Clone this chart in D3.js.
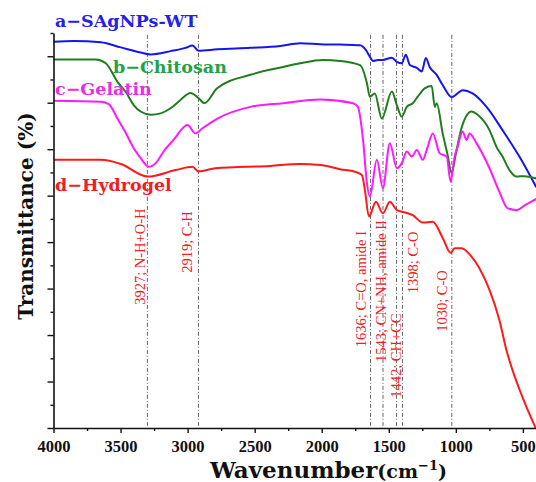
<!DOCTYPE html>
<html>
<head>
<meta charset="utf-8">
<script src="https://cdn.jsdelivr.net/npm/d3@7"></script>
<style>
  body { margin: 0; background: #fff; }
  svg { display: block; }
</style>
</head>
<body>
<div id="chart"></div>
<script>
// FTIR spectra, [wavenumber (cm-1), transmittance]
const seriesA = [[4000,83.1],[3850,83.3],[3647,83.0],[3498,81.9],[3350,80.8],[3275,80.4],[3127,81.1],[3015,81.8],[2963,82.3],[2919,81.2],[2778,81.5],[2532,81.8],[2309,82.2],[2161,82.8],[2012,82.6],[1863,82.5],[1714,82.35],[1670,81.3],[1641,79.9],[1618,79.0],[1581,79.2],[1544,79.2],[1477,79.7],[1440,78.8],[1403,78.5],[1373,80.3],[1343,78.1],[1291,77.5],[1254,76.7],[1224,79.6],[1195,77.7],[1143,76.0],[1098,73.8],[1031,71.2],[987,72.0],[950,72.7],[875,72.0],[771,69.1],[652,64.1],[526,58.4],[400,51.8]];
const seriesB = [[4000,79.3],[3684,79.3],[3610,78.5],[3523,74.5],[3461,72.3],[3402,69.5],[3350,68.1],[3275,67.4],[3201,67.7],[3127,68.8],[3053,70.6],[2978,72.1],[2919,71.0],[2874,69.9],[2780,73.1],[2532,76.0],[2287,77.7],[2161,78.5],[1990,79.2],[1863,79.0],[1714,78.1],[1663,74.2],[1641,71.3],[1604,72.0],[1552,66.6],[1477,72.4],[1440,69.5],[1403,67.0],[1366,69.1],[1321,69.9],[1284,71.3],[1232,73.1],[1180,73.6],[1157,69.1],[1143,69.9],[1098,63.4],[1061,58.7],[1031,54.8],[1002,58.7],[957,64.6],[883,68.1],[838,67.4],[749,64.1],[697,60.5],[652,58.4],[600,55.5],[548,54.1],[489,54.2],[400,53.7]];
const seriesC = [[4000,70.4],[3647,70.2],[3588,69.7],[3523,66.6],[3461,63.5],[3402,60.2],[3350,58.1],[3290,56.2],[3238,57.0],[3179,59.5],[3105,62.0],[3001,65.2],[2941,63.4],[2889,64.5],[2778,66.6],[2532,69.1],[2287,69.9],[2012,70.7],[1767,69.9],[1730,69.1],[1692,62.0],[1663,52.7],[1641,49.8],[1589,57.7],[1544,51.6],[1492,61.3],[1440,55.9],[1403,57.0],[1366,59.5],[1329,58.4],[1291,59.8],[1247,57.7],[1210,60.5],[1172,63.4],[1120,59.1],[1068,58.4],[1039,53.0],[1009,58.4],[987,60.5],[950,63.8],[920,62.0],[898,63.4],[846,61.3],[749,55.9],[675,50.8],[615,47.3],[548,46.9],[481,48.0],[400,49.3]];
const seriesD = [[4000,57.7],[3647,57.7],[3498,56.8],[3298,54.1],[3090,55.5],[2963,56.2],[2919,55.2],[2792,55.9],[2384,56.4],[2161,56.8],[2012,56.6],[1863,55.7],[1737,55.0],[1700,54.4],[1678,51.2],[1648,45.5],[1596,48.7],[1544,46.2],[1492,48.7],[1440,46.9],[1395,46.5],[1321,45.8],[1247,44.2],[1172,44.4],[1098,40.9],[1039,37.7],[1009,38.7],[957,38.7],[883,36.9],[824,34.4],[749,29.7],[675,23.2],[623,16.8],[578,12.5],[504,6.7],[405,0]];

const seriesNames = ["a\u2212SAgNPs-WT", "b\u2212Chitosan", "c\u2212Gelatin", "d\u2212Hydrogel"];

// band markers
const bandLines = [3300, 2919, 1636, 1543, 1442, 1398, 1030];
const bandLabels = ["3927; N-H+O-H", "2919; C-H", "1636; C=O, amide I", "1543; CN+NH, amide II", "1442; CH+CC", "1398; C-O", "1030; C-O"];
const bandLabelAt = [[3320,26.5],[2971,33.4],[1670,17.4],[1522,14.2],[1410,6.5],[1284,29.0],[1068,20.7]];

const xTicks = [4000, 3500, 3000, 2500, 2000, 1500, 1000, 500];
const xMinor = [3750, 3250, 2750, 2250, 1750, 1250, 750];
const yMajor = [0, 10, 20, 30, 40, 50, 60, 70, 80];
const yMinor = [5, 15, 25, 35, 45, 55, 65, 75, 85];

const svg = d3.select('#chart').append('svg')
  .attr('width', 536)
  .attr('height', 482);

const x = d3.scaleLinear().domain([4000, 400]).range([53.5, 536.3]);
const y = d3.scaleLinear().domain([0, 85]).range([428, 33]);

const lineColours = ['#1515f0', '#1f7d1f', '#ff19ff', '#ff1a1a'];
const textColours = ['#2323e6', '#26a047', '#e62ee6', '#f01e1e'];

// dashed band lines
svg.append('g').selectAll('line')
  .data(bandLines)
  .enter().append('line')
    .attr('x1', d => x(d)).attr('x2', d => x(d))
    .attr('y1', y(84.6)).attr('y2', y(0))
    .attr('stroke', '#666')
    .attr('stroke-width', 1)
    .attr('stroke-dasharray', '4,2,1,2');

// band labels
svg.append('g').selectAll('text')
  .data(bandLabels)
  .enter().append('text')
    .attr('transform', (d, i) => `translate(${x(bandLabelAt[i][0])},${y(bandLabelAt[i][1])}) rotate(-90)`)
    .attr('fill', '#f02020')
    .style('font-family', '"Liberation Serif", serif')
    .style('font-size', '14.5px')
    .text(d => d);

// spectra
const line = d3.line()
  .x(d => x(d[0]))
  .y(d => y(d[1]))
  .curve(d3.curveMonotoneX);

[seriesA, seriesB, seriesC, seriesD].forEach((s, i) => {
  svg.append('path')
    .datum(s)
    .attr('fill', 'none')
    .attr('stroke', lineColours[i])
    .attr('stroke-width', 2)
    .attr('stroke-linejoin', 'round')
    .attr('d', line);
});

// axes
const xAxisGroup = svg.append('g').attr('transform', `translate(0,${y(0)})`);
xAxisGroup.call(d3.axisBottom(x).tickValues(xTicks).tickSize(5).tickPadding(7)
  .tickSizeOuter(0).tickFormat(d3.format('d')));
svg.append('g').attr('transform', `translate(0,${y(0)})`)
  .call(d3.axisBottom(x).tickValues(xMinor).tickSize(3).tickFormat('').tickSizeOuter(0))
  .select('.domain').remove();

const yAxisGroup = svg.append('g').attr('transform', `translate(${x(4000)},0)`);
yAxisGroup.call(d3.axisLeft(y).tickValues(yMajor).tickSize(6).tickFormat('').tickSizeOuter(0));
svg.append('g').attr('transform', `translate(${x(4000)},0)`)
  .call(d3.axisLeft(y).tickValues(yMinor).tickSize(3).tickFormat('').tickSizeOuter(0))
  .select('.domain').remove();

svg.selectAll('.domain').attr('stroke', '#111').attr('stroke-width', 1.6);
svg.selectAll('.tick line').attr('stroke', '#111').attr('stroke-width', 1.4);
xAxisGroup.selectAll('text')
  .attr('fill', '#111')
  .style('font-family', '"Liberation Serif", serif')
  .style('font-weight', 'bold')
  .style('font-size', '16.5px');

// series names
const namePos = [[55, 26.7], [113, 73.3], [55, 95], [55, 191]];
svg.append('g').selectAll('text')
  .data(seriesNames)
  .enter().append('text')
    .attr('x', (d, i) => namePos[i][0])
    .attr('y', (d, i) => namePos[i][1])
    .attr('fill', (d, i) => textColours[i])
    .style('font-family', '"DejaVu Serif", serif')
    .style('font-weight', 'bold')
    .style('font-size', '17.5px')
    .text(d => d);

// axis titles
svg.append('text')
  .attr('transform', 'translate(33,216) rotate(-90)')
  .attr('text-anchor', 'middle')
  .attr('fill', '#111')
  .style('font-family', '"DejaVu Serif", serif')
  .style('font-weight', 'bold')
  .style('font-size', '20px')
  .text('Transmittance (%)');

const xt = svg.append('text')
  .attr('x', 210)
  .attr('y', 478)
  .attr('fill', '#111')
  .style('font-family', '"DejaVu Serif", serif')
  .style('font-weight', 'bold')
  .style('font-size', '23px');
xt.append('tspan').text('Wavenumber');
xt.append('tspan').style('font-size', '19px').text('(cm');
xt.append('tspan').style('font-size', '13px').attr('dy', -8).text('\u22121');
xt.append('tspan').style('font-size', '19px').attr('dy', 8).text(')');
</script>
</body>
</html>
